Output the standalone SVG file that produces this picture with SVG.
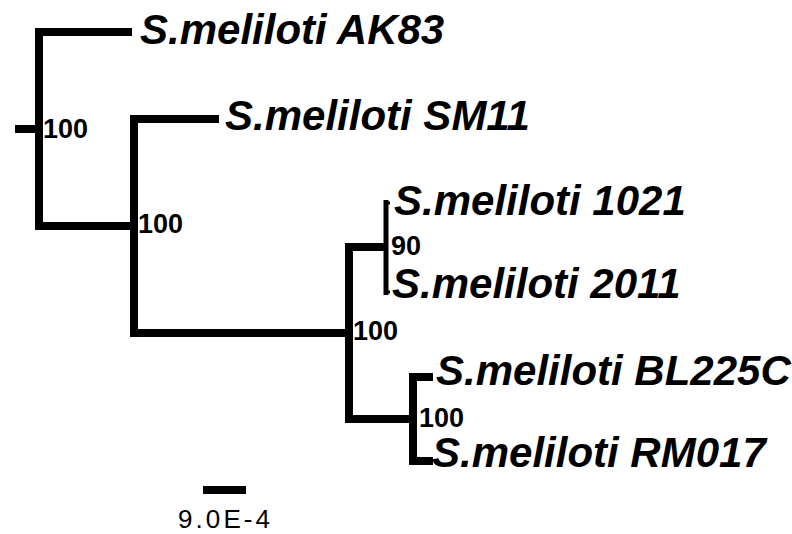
<svg xmlns="http://www.w3.org/2000/svg" width="792" height="534" viewBox="0 0 792 534">
<style>
.br{fill:none;stroke:#000;stroke-width:8;stroke-linecap:butt;stroke-linejoin:miter}
.thin{fill:none;stroke:#000;stroke-width:5}
.tax{font-family:"Liberation Sans",Arial,sans-serif;font-weight:bold;font-style:italic;font-size:42px;fill:#000}
.bs{font-family:"Liberation Sans",Arial,sans-serif;font-weight:bold;font-size:27px;fill:#000}
.sc{font-family:"Liberation Sans",Arial,sans-serif;font-size:26px;fill:#000}
</style>
<rect width="792" height="534" fill="#fff"/>
<g id="connectors">
<path class="br" d="M15 129 H39"/>
<path class="br" d="M132 32 H39 V226 H134"/>
<path class="br" d="M219 119 H134 V333 H349"/>
<path class="br" d="M387 247 H349 V419 H413"/>
<path class="thin" d="M386 200 V295"/>
<path fill="none" stroke="#000" stroke-width="3" d="M386 203 H390 M386 292 H390"/>
<path class="br" d="M433 377 H413 V461 H433"/>
</g>
<g id="node-AK83"><text class="tax" x="140" y="44">S.meliloti AK83</text></g>
<g id="node-SM11"><text class="tax" x="225" y="130">S.meliloti SM11</text></g>
<g id="node-1021"><text class="tax" x="394" y="215">S.meliloti 1021</text></g>
<g id="node-2011"><text class="tax" x="392" y="298">S.meliloti 2011</text></g>
<g id="node-BL225C"><text class="tax" x="436" y="385">S.meliloti BL225C</text></g>
<g id="node-RM017"><text class="tax" x="432" y="467">S.meliloti RM017</text></g>
<g id="bootstrap">
<text class="bs" x="43" y="138">100</text>
<text class="bs" x="138" y="233">100</text>
<text class="bs" x="391" y="255">90</text>
<text class="bs" x="353" y="340">100</text>
<text class="bs" x="419" y="427">100</text>
</g>
<g id="scale">
<rect x="203" y="486" width="43" height="8" fill="#000"/>
<text class="sc" x="178" y="528" textLength="92">9.0E-4</text>
</g>
</svg>
